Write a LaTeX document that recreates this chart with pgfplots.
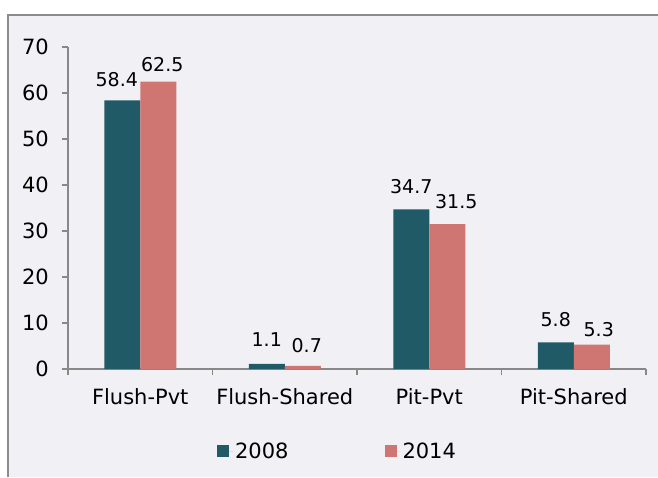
\documentclass[border=0pt]{standalone}
\usepackage{pgfplots}
\usepackage{pgfplotstable}
\pgfplotsset{compat=1.18}
\usepackage{fontspec}
\setmainfont{DejaVu Sans}
\definecolor{teal2008}{HTML}{215A67}
\definecolor{pink2014}{HTML}{CF7672}
\definecolor{bgc}{HTML}{F1F0F5}
\definecolor{framec}{HTML}{8C8C8C}
\definecolor{axc}{HTML}{888888}
\pgfplotstableread{
x y dx dy
0 58.4 -5.5 14
1 1.1 0 17
2 34.7 0 16
3 5.8 0 16
}\dataA
\pgfplotstableread{
x y dx dy
0 62.5 4 10
1 0.7 4 13
2 31.5 9 16
3 5.3 7 8
}\dataB
\begin{document}
\begin{tikzpicture}[x=1pt,y=1pt]
\path[use as bounding box] (0,0) rectangle (658,477);
\fill[bgc] (8,0) rectangle (658,462);
\draw[framec, line width=2pt] (8,0) -- (8,462) -- (658,462);
\begin{axis}[
  at={(68pt,108pt)}, anchor=south west,
  scale only axis, width=578pt, height=322pt,
  ybar=0pt, bar width=36pt,
  xmin=-0.5, xmax=3.5, ymin=0, ymax=70,
  ytick={0,10,...,70},
  xtick={-0.5,0.5,1.5,2.5,3.5}, xticklabels={},
  extra x ticks={0,1,2,3},
  extra x tick labels={Flush-Pvt,Flush-Shared,Pit-Pvt,Pit-Shared},
  extra x tick style={major tick length=0pt},
  axis x line*=bottom, axis y line*=left,
  axis line style={axc, line width=1.3pt},
  every tick/.style={axc, line width=1.3pt},
  tick align=outside, major tick length=6pt,
  xtick pos=bottom, ytick pos=left,
  tick label style={font=\fontsize{21}{25}\selectfont, black},
  yticklabel style={anchor=east, inner sep=0pt, xshift=-13pt},
  xticklabel style={anchor=base, inner sep=0pt, yshift=-35pt},
  /pgf/number format/assume math mode=true,
  visualization depends on={\thisrow{dx} \as \dx},
  visualization depends on={\thisrow{dy} \as \dy},
  nodes near coords,
  nodes near coords style={font=\fontsize{19}{23}\selectfont, black, anchor=base, inner sep=0pt, xshift=\dx pt, yshift=\dy pt, /pgf/number format/.cd, fixed, precision=1},
  clip=false,
  legend columns=2,
  legend style={at={(0.4663,-0.2547)}, anchor=center, draw=none, fill=none,
    font=\fontsize{21}{25}\selectfont, /tikz/every even column/.append style={column sep=94pt}},
  legend image code/.code={\fill[#1] (0pt,-6pt) rectangle (12pt,6pt); \path (0pt,0pt) -- (16pt,0pt);},
]
\addplot[fill=teal2008, draw=none] table[x=x, y=y] {\dataA};
\addplot[fill=pink2014, draw=none] table[x=x, y=y] {\dataB};
\legend{2008,2014}
\end{axis}
\end{tikzpicture}
\end{document}
